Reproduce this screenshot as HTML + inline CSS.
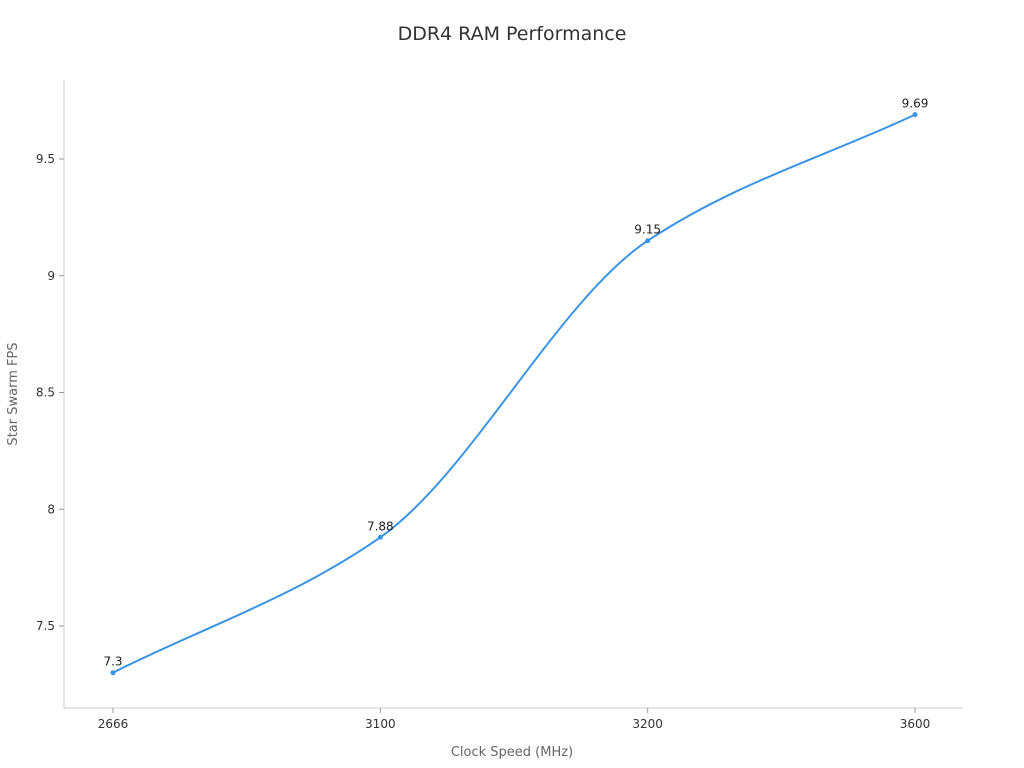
<!DOCTYPE html>
<html><head><meta charset="utf-8"><style>
html,body{margin:0;padding:0;background:#fff;}
svg{display:block;font-family:"DejaVu Sans","Liberation Sans",sans-serif;}
</style></head><body>
<svg id="chart" width="1024" height="768">
<text x="512" y="40" text-anchor="middle" font-size="19" fill="#333">DDR4 RAM Performance</text>
<text x="512" y="756" text-anchor="middle" font-size="13" fill="#666">Clock Speed (MHz)</text>
<text transform="translate(17,394) rotate(-90)" text-anchor="middle" font-size="13" fill="#666">Star Swarm FPS</text>
<g id="axes"></g><g id="series"></g>
</svg>
<script>
const categories = ["2666","3100","3200","3600"];
const fps = [7.3, 7.88, 9.15, 9.69];
const yTicks = [7.5, 8, 8.5, 9, 9.5];
const yTickLabels = ["7.5","8","8.5","9","9.5"];
const valueLabels = ["7.3","7.88","9.15","9.69"];

const NS="http://www.w3.org/2000/svg";
const L=64,R=963,T=80,B=708;
function xs(i){return 113+i*(915-113)/(categories.length-1);}
function ys(v){return 626-(v-7.5)*(626-159)/2;}
function mk(tag,attrs,parent){const e=document.createElementNS(NS,tag);for(const k in attrs)e.setAttribute(k,attrs[k]);parent.appendChild(e);return e;}
const ax=document.getElementById('axes'), se=document.getElementById('series');
let e=mk('line',{x1:L,y1:T,x2:L,y2:B,stroke:'#ccc'},ax);


e=mk('line',{x1:L,y1:B,x2:R,y2:B,stroke:'#ccc'},ax);


yTicks.forEach((v,i)=>{
  const y=ys(v);
  let t=mk('line',{x1:L-5,y1:y,x2:L,y2:y,stroke:'#999'},ax);
  
  
  let tx=mk('text',{x:L-9,y:y+4,'text-anchor':'end','font-size':12,fill:'#333'},ax);
  tx.textContent=yTickLabels[i];
  
  
});
categories.forEach((c,i)=>{
  const x=xs(i);
  let t=mk('line',{x1:x,y1:B,x2:x,y2:B+5,stroke:'#999'},ax);
  
  
  let tx=mk('text',{x:x,y:B+20,'text-anchor':'middle','font-size':12,fill:'#333'},ax);
  tx.textContent=c;
  
  
});
// monotone X cubic
const px=categories.map((c,i)=>xs(i)), py=fps.map(ys);
const n=px.length, d=[], m=[];
for(let i=0;i<n-1;i++) d.push((py[i+1]-py[i])/(px[i+1]-px[i]));
for(let i=0;i<n;i++){
  if(i===0) m.push(d[0]); else if(i===n-1) m.push(d[n-2]);
  else if(d[i-1]*d[i]<=0) m.push(0);
  else { const h0=px[i]-px[i-1],h1=px[i+1]-px[i];
    m.push((3*(h0+h1))/((2*h1+h0)/d[i-1]+(h1+2*h0)/d[i])); }
}
let p=`M${px[0]},${py[0]}`;
for(let i=0;i<n-1;i++){const h=(px[i+1]-px[i])/3;
  p+=` C${px[i]+h},${py[i]+m[i]*h} ${px[i+1]-h},${py[i+1]-m[i+1]*h} ${px[i+1]},${py[i+1]}`;}
e=mk('path',{d:p,fill:'none',stroke:'#3b94e3','stroke-width':2},se);


fps.forEach((v,i)=>{
  let c=mk('circle',{cx:px[i],cy:py[i],r:2.5,fill:'#3b94e3'},se);
  
  
  let tx=mk('text',{x:px[i],y:py[i]-7,'text-anchor':'middle','font-size':12,fill:'#222'},se);
  tx.textContent=valueLabels[i];
  
  
});
</script>
</body></html>
